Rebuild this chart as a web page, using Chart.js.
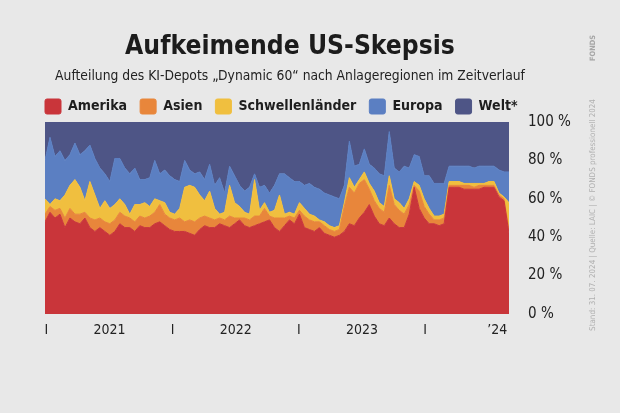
<!DOCTYPE html>
<html><head><meta charset="utf-8">
<script src="https://cdn.jsdelivr.net/npm/chart.js@4.4.1/dist/chart.umd.min.js"></script>
<style>
html,body{margin:0;padding:0;background:#e8e8e8;}
canvas{display:block;}
</style></head><body>
<canvas id="c" width="620" height="413"></canvas>
<script>
// ---------- texts ----------
const titleText = 'Aufkeimende US-Skepsis';
const subtitleText = 'Aufteilung des KI-Depots „Dynamic 60“ nach Anlageregionen im Zeitverlauf';
const sourceText = 'Stand: 31. 07. 2024 | Quelle: LAIC | © FONDS professionell 2024';
const logoText = 'FONDS';
const seriesNames = ['Amerika', 'Asien', 'Schwellenländer', 'Europa', 'Welt*'];
const seriesColors = ['#c9353a', '#e8863b', '#f0bf3f', '#5b7fc2', '#4e5586'];

// ---------- sampling grid (fractional years, roughly bi-weekly) ----------
const startYear = 2020.99;
const stepYears = 0.0395;

// ---------- series values (share in %) ----------
const amerika = [48,53,50,52,45,50,48,47,50,45,43,45,43,41,43,47,45,45,43,
  46,45,45,47,48,46,44,43,43,43,42,41,44,46,45,45,47,46,
  45,47,49,46,45,46,47,48,49,45,43,46,49,47,52,45,44,43,
  45,42,41,40,41,43,47,46,50,53,57,51,47,46,50,47,45,45,
  52,66,55,50,47,47,46,47,66,66,66,65,65,65,65,66,66,66,61,59,42];
const asien = [4,3,4,3,5,5,4,5,3,5,6,5,5,6,6,6,6,5,5,
  5,5,6,6,9,6,6,6,7,5,7,7,6,5,5,4,3,3,
  6,3,1,4,4,5,4,7,2,5,7,4,2,3,2,6,5,5,
  3,4,3,3,3,13,19,17,18,17,8,8,8,7,17,10,9,7,
  5,1,9,6,5,2,3,3,1,1,1,2,2,1,2,1,1,1,1,1,2];
const schwellen = [8,1,6,4,12,12,18,14,6,19,13,5,11,8,8,7,6,2,9,
  6,8,5,7,2,6,3,3,5,18,18,18,12,8,14,6,2,4,
  16,8,6,3,3,19,3,3,2,4,12,2,2,2,4,4,3,3,
  1,2,2,2,2,2,5,3,2,4,3,5,3,3,5,3,4,3,
  3,2,3,4,3,2,2,2,2,2,2,1,1,2,1,1,2,2,1,1,14];
const europa = [20,35,22,26,18,16,19,17,26,19,19,21,14,14,24,21,19,21,19,
  13,12,15,20,14,17,19,18,14,14,8,7,12,11,14,12,19,10,
  10,14,11,11,14,3,12,9,10,13,11,21,18,17,11,12,16,15,
  16,15,16,16,14,9,19,11,8,12,10,12,15,16,23,16,16,22,
  16,14,15,12,17,17,17,16,8,8,8,9,9,8,9,9,8,8,12,13,16];
const welt = [20,8,18,15,20,17,11,17,15,12,19,24,27,31,19,19,24,27,24,
  30,30,29,20,27,25,28,30,31,20,25,27,26,30,22,33,29,37,
  23,28,33,36,34,27,34,33,37,33,27,27,29,31,31,33,32,34,
  35,37,38,39,40,33,10,23,22,14,22,24,27,28,5,24,26,23,
  24,17,18,28,28,32,32,32,23,23,23,23,23,24,23,23,23,23,25,26,26];

// ---------- tick labels ----------
const xTickValues = [2021, 2021.5, 2022, 2022.5, 2023, 2023.5, 2024, 2024.57];
const xTickLabels = ['I', '2021', 'I', '2022', 'I', '2023', 'I', '’24'];
const yTickValues = [0, 20, 40, 60, 80, 100];

// ---------- font selection / fitting ----------
const mctx = document.createElement('canvas').getContext('2d');
function fontAvailable(name) {
  const s = 'mmmmmmmmmmlliiWWWabcxyz0123456789';
  for (const base of ['monospace', 'serif']) {
    mctx.font = '40px ' + base; const a = mctx.measureText(s).width;
    mctx.font = '40px "' + name + '", ' + base; const b = mctx.measureText(s).width;
    if (Math.abs(a - b) > 0.5) return true;
  }
  return false;
}
const cond = ['Liberation Sans Narrow', 'DejaVu Sans Condensed', 'Arial Narrow'].find(fontAvailable);
const FAMILY = cond ? '"' + cond + '", Roboto, sans-serif' : 'Roboto, sans-serif';
function fit(text, weight, target, maxSize) {
  mctx.font = weight + ' 100px ' + FAMILY;
  const s = 100 * target / mctx.measureText(text).width;
  return Math.min(s, maxSize);
}
const ts = fit(titleText, 'bold', 330, 30);
const ss = fit(subtitleText, 'normal', 470, 18);
const ls = fit('Schwellenländer', 'bold', 118, 19);
const ys = fit('100 %', 'normal', 43, 19);
const xs = fit('2021', 'normal', 32, 20);
const srcS = fit(sourceText, 'normal', 232, 12);
const logoS = fit(logoText, 'bold', 26, 14);

// vertical layout targets
const pt1 = Math.max(0, 47 - 0.6 * ts);
const h1 = pt1 + 1.2 * ts;
const pt2 = Math.max(0, 76 - 0.6 * ss - h1);
const pb2 = Math.max(0, 86 - h1 - pt2 - 1.2 * ss);

// ---------- build datasets ----------
const seriesValues = [amerika, asien, schwellen, europa, welt];
const xValues = amerika.map((_, i) => startYear + i * stepYears);
const datasets = seriesValues.map((vals, k) => ({
  label: seriesNames[k],
  data: vals.map((v, i) => ({ x: xValues[i], y: v })),
  backgroundColor: seriesColors[k],
  borderColor: seriesColors[k],
  borderWidth: 1,
  pointRadius: 0,
  tension: 0,
  fill: k === 0 ? 'origin' : '-1'
}));

// legend starts flush with the plot's left edge
const legendShift = {
  id: 'legendShift',
  afterLayout(chart) {
    const lg = chart.legend;
    if (lg) {
      const d = chart.chartArea.left - lg.left - lg.options.labels.padding;
      lg.left += d; lg.right += d;
    }
  }
};

const sidePlugin = {
  id: 'side',
  afterDraw(chart) {
    const c = chart.ctx;
    c.save();
    c.fillStyle = '#b0b0b0';
    c.font = srcS + 'px ' + FAMILY;
    c.translate(593, 215);
    c.rotate(-Math.PI / 2);
    c.textAlign = 'center';
    c.textBaseline = 'middle';
    c.fillText(sourceText, 0, 0);
    c.restore();
    c.save();
    c.fillStyle = '#a6a6a6';
    c.font = 'bold ' + logoS + 'px ' + FAMILY;
    c.translate(593, 48);
    c.rotate(-Math.PI / 2);
    c.textAlign = 'center';
    c.textBaseline = 'middle';
    c.fillText(logoText, 0, 0);
    c.restore();
  }
};

new Chart(document.getElementById('c'), {
  type: 'line',
  data: { datasets },
  plugins: [legendShift, sidePlugin],
  options: {
    responsive: false,
    animation: false,
    devicePixelRatio: 1,
    layout: { padding: { left: 9, right: 49, top: 0, bottom: 69 } },
    plugins: {
      title: {
        display: true, text: titleText, color: '#1c1c1c',
        font: { family: FAMILY, size: ts, weight: 'bold' },
        padding: { top: pt1, bottom: 0 }
      },
      subtitle: {
        display: true, text: subtitleText, color: '#222',
        font: { family: FAMILY, size: ss, weight: 'normal' },
        padding: { top: pt2, bottom: pb2 }
      },
      legend: {
        display: true, position: 'top', align: 'start', maxHeight: 36,
        labels: {
          boxWidth: 16, boxHeight: 15, padding: 13,
          useBorderRadius: true, borderRadius: 2,
          color: '#1e1e1e',
          font: { family: FAMILY, size: ls, weight: 'bold' }
        }
      },
      tooltip: { enabled: false },
      filler: { propagate: false }
    },
    scales: {
      x: {
        type: 'linear',
        min: startYear,
        max: startYear + (amerika.length - 1) * stepYears,
        grid: { display: false, drawTicks: false },
        border: { display: false },
        afterBuildTicks(scale) { scale.ticks = xTickValues.map(v => ({ value: v })); },
        afterFit(scale) { scale.height = 30; },
        ticks: {
          padding: 8, color: '#222', maxRotation: 0, autoSkip: false,
          font: { family: FAMILY, size: xs },
          callback(value, index) { return xTickLabels[index]; }
        }
      },
      y: {
        type: 'linear', position: 'right', stacked: true,
        min: 0, max: 100,
        grid: { display: false, drawTicks: false },
        border: { display: false },
        afterBuildTicks(scale) { scale.ticks = yTickValues.map(v => ({ value: v })); },
        afterFit(scale) { scale.width = 62; },
        ticks: {
          padding: 19, color: '#222',
          font: { family: FAMILY, size: ys },
          callback(value) { return value + ' %'; }
        }
      },
      yPad: {
        type: 'linear', position: 'left', display: true,
        grid: { display: false, drawTicks: false },
        border: { display: false },
        ticks: { display: false },
        afterFit(scale) { scale.width = 36; }
      }
    }
  }
});
</script>
</body></html>
